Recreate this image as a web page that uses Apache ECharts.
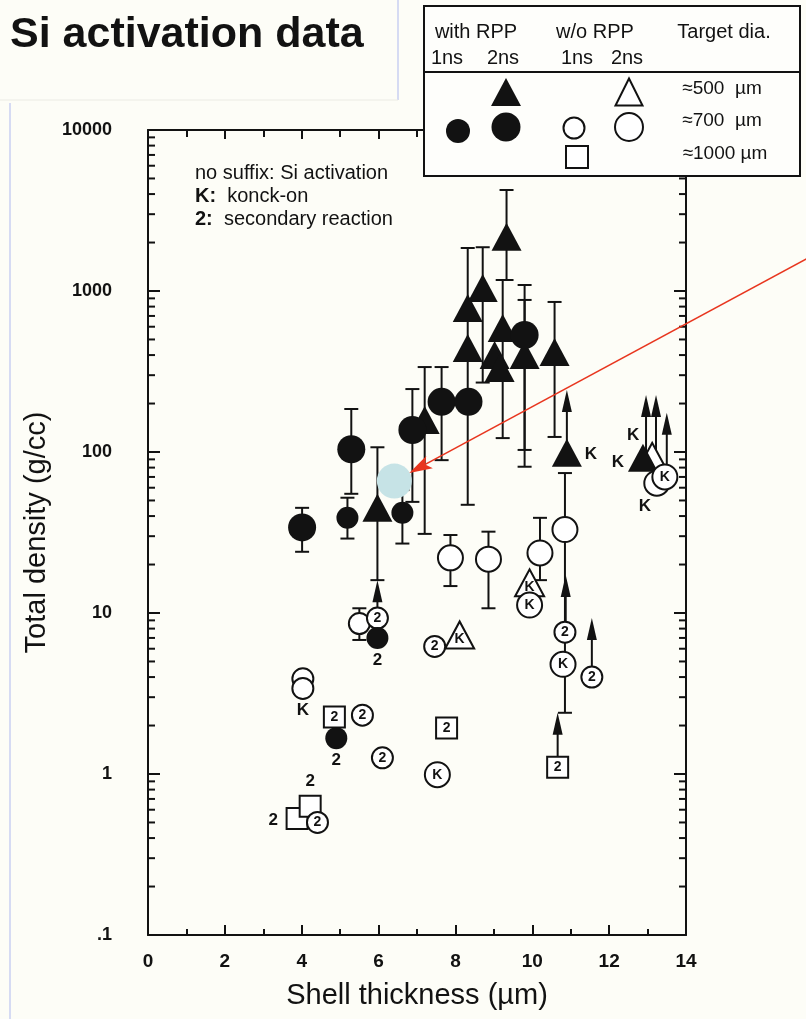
<!DOCTYPE html>
<html>
<head>
<meta charset="utf-8">
<script src="https://cdn.jsdelivr.net/npm/echarts@6/dist/echarts.min.js"></script>
<style>
  html, body { margin: 0; padding: 0; background: #fdfdf7; }
  #chart { width: 806px; height: 1019px; }
</style>
</head>
<body>
<div id="chart"></div>
<script>
// ---- axis ticks ----
const xTicks = [0, 2, 4, 6, 8, 10, 12, 14];
const yDecades = [0.1, 1, 10, 100, 1000, 10000];
const yDecadeLabels = ['.1', '1', '10', '100', '1000', '10000'];

// ---- measurements: [shell thickness (µm), total density (g/cc), suffix] ----
// with RPP, 1 ns, ≈700 µm
const rpp1nsCircle = [
  [5.19, 39, ''], [6.62, 42, ''], [5.97, 7.0, '2'], [4.90, 1.67, '2']
];
// with RPP, 2 ns, ≈700 µm
const rpp2nsCircle = [
  [4.01, 34, ''], [5.29, 104, ''], [6.88, 137, ''], [7.64, 205, ''], [8.34, 205, ''], [9.80, 533, '']
];
// with RPP, 2 ns, ≈500 µm
const rpp2nsTriangle = [
  [5.97, 45, ''], [7.20, 158, ''], [8.32, 783, ''], [8.32, 443, ''], [8.71, 1045, ''],
  [9.23, 589, ''], [9.02, 400, ''], [9.15, 333, ''], [9.33, 2170, ''], [9.80, 400, ''],
  [10.58, 418, ''], [10.90, 99, 'K'], [12.88, 92, 'K']
];
// w/o RPP, 1 ns, ≈700 µm
const noRpp1nsCircle = [
  [4.03, 3.9, ''], [4.03, 3.4, 'K'], [5.50, 8.6, ''], [5.97, 9.3, '2'], [5.58, 2.32, '2'],
  [6.10, 1.26, '2'], [7.46, 6.2, '2'], [4.41, 0.50, '2'], [10.85, 7.6, '2'], [11.55, 4.0, '2']
];
// w/o RPP, 2 ns, ≈700 µm
const noRpp2nsCircle = [
  [7.87, 22, ''], [8.86, 21.6, ''], [10.20, 23.6, ''], [10.85, 33, ''],
  [7.53, 0.99, 'K'], [9.93, 11.2, 'K'], [10.80, 4.8, 'K'], [13.24, 64, 'K'], [13.45, 70, 'K']
];
// w/o RPP, 1 ns, ≈1000 µm
const noRpp1nsSquare = [
  [4.85, 2.26, '2'], [7.77, 1.93, '2'], [10.66, 1.10, '2'], [3.88, 0.53, '2'], [4.22, 0.63, '2']
];
// w/o RPP, 2 ns, ≈500 µm
const noRpp2nsTriangle = [
  [8.11, 7.3, 'K'], [9.93, 15.4, 'K'], [13.12, 94, 'K']
];

// error bars: [thickness, low, high]
const errorBars = [
  [4.01, 24, 45], [5.19, 29, 52], [5.29, 55, 185], [6.62, 27, 58], [6.88, 49, 246],
  [7.64, 89, 337], [9.80, 103, 1090], [5.97, 16, 107], [7.20, 31, 337], [8.32, 47, 1850],
  [8.71, 270, 1870], [9.23, 122, 1170], [9.33, 1170, 4240], [9.80, 81, 880], [10.58, 124, 855],
  [7.87, 14.7, 30.5], [8.86, 10.7, 32], [10.20, 16, 39], [10.85, 2.4, 74], [5.50, 6.8, 10.7]
];
// lower limits (arrows): [thickness, from, to]
const lowerLimits = [
  [5.97, 9.3, 16], [10.90, 99, 243], [12.96, 92, 226], [13.22, 94, 226], [13.50, 70, 175],
  [10.87, 7.6, 17.2], [11.55, 4.0, 9.3], [10.66, 1.10, 2.4]
];
// highlighted point
const highlight = [[6.41, 66]];

// ---- styling ----
const INK = '#121212';
const FONT = '"Liberation Sans", Arial, Helvetica, sans-serif';

// suffix letters drawn beside (rather than inside) their marker
const suffixOffset = {
  'rpp1nsCircle:2': [0, 22], 'rpp1nsCircle:3': [0, 22],
  'rpp2nsTriangle:11': [24, 2], 'rpp2nsTriangle:12': [-25, 4],
  'noRpp1nsCircle:1': [0, 22], 'noRpp2nsCircle:7': [-12, 23],
  'noRpp1nsSquare:3': [-24, 2], 'noRpp1nsSquare:4': [0, -25],
  'noRpp2nsTriangle:2': [-19, -21]
};

function points(key, rows, innerOffset) {
  return rows.map((r, i) => {
    const off = suffixOffset[key + ':' + i];
    return {
      value: [r[0], r[1]],
      name: r[2],
      label: off
        ? { show: r[2] !== '', offset: off, fontSize: 17 }
        : { show: r[2] !== '', offset: innerOffset || [0, 0] }
    };
  });
}

function scatter(key, rows, symbol, size, filled, innerOffset) {
  return {
    type: 'scatter', name: key, symbol: symbol, symbolSize: size,
    itemStyle: filled
      ? { color: INK, opacity: 1 }
      : { color: '#ffffff', borderColor: INK, borderWidth: 2, opacity: 1 },
    label: {
      position: 'inside', formatter: '{b}', color: INK,
      fontSize: 14, fontWeight: 'bold', fontFamily: FONT
    },
    emphasis: { disabled: true },
    data: points(key, rows, innerOffset),
    z: 3
  };
}

function renderErrorBar(params, api) {
  const x = api.value(0);
  const lo = api.coord([x, api.value(1)]);
  const hi = api.coord([x, api.value(2)]);
  const w = 7;
  const style = { stroke: INK, lineWidth: 2 };
  return {
    type: 'group', children: [
      { type: 'line', shape: { x1: lo[0], y1: lo[1], x2: hi[0], y2: hi[1] }, style },
      { type: 'line', shape: { x1: lo[0] - w, y1: lo[1], x2: lo[0] + w, y2: lo[1] }, style },
      { type: 'line', shape: { x1: hi[0] - w, y1: hi[1], x2: hi[0] + w, y2: hi[1] }, style }
    ]
  };
}

function renderLimit(params, api) {
  const x = api.value(0);
  const a = api.coord([x, api.value(1)]);
  const b = api.coord([x, api.value(2)]);
  const headH = 22, headW = 5;
  return {
    type: 'group', children: [
      { type: 'line', shape: { x1: a[0], y1: a[1], x2: b[0], y2: b[1] + headH - 2 },
        style: { stroke: INK, lineWidth: 2 } },
      { type: 'polygon',
        shape: { points: [[b[0], b[1]], [b[0] - headW, b[1] + headH], [b[0] + headW, b[1] + headH]] },
        style: { fill: INK } }
    ]
  };
}

const chart = echarts.init(document.getElementById('chart'), null, { renderer: 'canvas' });

const axisLine = { show: true, onZero: false, lineStyle: { color: INK, width: 2 } };

chart.setOption({
  animation: false,
  backgroundColor: '#fdfdf7',
  title: {
    text: 'Si activation data', left: 5, top: 9,
    textStyle: { fontFamily: FONT, fontSize: 43, fontWeight: 'bold', color: INK }
  },
  grid: { left: 148, right: 120, top: 130, bottom: 84, outerBoundsMode: 'none' },
  xAxis: [
    {
      type: 'value', min: xTicks[0], max: xTicks[xTicks.length - 1], interval: 2,
      position: 'bottom', axisLine: axisLine,
      axisTick: { show: true, inside: true, length: 10, lineStyle: { color: INK, width: 2 } },
      minorTick: { show: true, splitNumber: 2, length: 6, lineStyle: { color: INK, width: 2 } },
      splitLine: { show: false },
      axisLabel: { color: INK, fontFamily: FONT, fontSize: 19, fontWeight: 'bold', margin: 17 },
      name: 'Shell thickness (µm)', nameLocation: 'middle', nameGap: 46,
      nameTextStyle: { color: INK, fontFamily: FONT, fontSize: 29 }
    },
    {
      type: 'value', min: xTicks[0], max: xTicks[xTicks.length - 1], interval: 2,
      position: 'top', axisLine: axisLine,
      axisTick: { show: true, inside: true, length: 9, lineStyle: { color: INK, width: 2 } },
      minorTick: { show: true, splitNumber: 2, length: 7, lineStyle: { color: INK, width: 2 } },
      splitLine: { show: false }, axisLabel: { show: false }
    }
  ],
  yAxis: [
    {
      type: 'log', logBase: 10, min: yDecades[0], max: yDecades[yDecades.length - 1],
      position: 'left', axisLine: axisLine,
      axisTick: { show: true, inside: true, length: 12, lineStyle: { color: INK, width: 2 } },
      splitLine: { show: false },
      axisLabel: {
        color: INK, fontFamily: FONT, fontSize: 18, fontWeight: 'bold', margin: 36,
        formatter: v => {
          const i = yDecades.findIndex(d => Math.abs(Math.log10(d) - Math.log10(v)) < 1e-6);
          return i >= 0 ? yDecadeLabels[i] : '';
        }
      },
      name: 'Total density (g/cc)', nameLocation: 'middle', nameGap: 93,
      nameTextStyle: { color: INK, fontFamily: FONT, fontSize: 29 }
    },
    {
      type: 'log', logBase: 10, min: yDecades[0], max: yDecades[yDecades.length - 1],
      position: 'right', axisLine: axisLine,
      axisTick: { show: true, inside: true, length: 12, lineStyle: { color: INK, width: 2 } },
      splitLine: { show: false }, axisLabel: { show: false }
    }
  ],
  series: [
    {
      type: 'custom', name: 'error bars', renderItem: renderErrorBar, clip: false,
      encode: { x: 0, y: [1, 2] }, data: errorBars, z: 2, silent: true
    },
    {
      type: 'custom', name: 'lower limits', renderItem: renderLimit, clip: false,
      encode: { x: 0, y: [1, 2] }, data: lowerLimits, z: 2, silent: true
    },
    scatter('noRpp2nsTriangle', noRpp2nsTriangle, 'triangle', [29, 27], false, [0, 4]),
    scatter('rpp2nsTriangle', rpp2nsTriangle, 'triangle', [30, 28], true),
    scatter('noRpp1nsSquare', noRpp1nsSquare, 'rect', 21, false),
    scatter('noRpp2nsCircle', noRpp2nsCircle, 'circle', 25, false),
    scatter('noRpp1nsCircle', noRpp1nsCircle, 'circle', 21, false),
    scatter('rpp2nsCircle', rpp2nsCircle, 'circle', 28, true),
    scatter('rpp1nsCircle', rpp1nsCircle, 'circle', 22, true),
    {
      type: 'scatter', name: 'highlight', symbol: 'circle', symbolSize: 35,
      itemStyle: { color: '#c6e3e6', opacity: 1 }, emphasis: { disabled: true },
      data: highlight, z: 5, silent: true
    }
  ]
});

// ---- overlay: log minor ticks, key box, notes, pointer arrow ----
const g = [];
const grid = chart.getModel().getComponent('grid').coordinateSystem.getRect();
const xL = grid.x, xR = grid.x + grid.width;

for (let k = 0; k < yDecades.length - 1; k++) {
  for (let m = 2; m <= 9; m++) {
    const v = yDecades[k] * m;
    const py = chart.convertToPixel({ yAxisIndex: 0 }, v);
    g.push({ type: 'line', shape: { x1: xL, y1: py, x2: xL + 7, y2: py },
      style: { stroke: INK, lineWidth: 2 }, z: 10 });
    g.push({ type: 'line', shape: { x1: xR - 7, y1: py, x2: xR, y2: py },
      style: { stroke: INK, lineWidth: 2 }, z: 10 });
  }
}

// slide edges
g.push({ type: 'line', shape: { x1: 398, y1: 0, x2: 398, y2: 100 }, style: { stroke: '#c9cff2', lineWidth: 1.5 }, z: 1 });
g.push({ type: 'line', shape: { x1: 0, y1: 100, x2: 398, y2: 100 }, style: { stroke: '#ebebe4', lineWidth: 1 }, z: 1 });
g.push({ type: 'line', shape: { x1: 10, y1: 103, x2: 10, y2: 1019 }, style: { stroke: '#c9cff2', lineWidth: 1.5 }, z: 1 });

// notes
const richBold = { b: { fontWeight: 'bold', fontSize: 20, fontFamily: FONT, fill: INK } };
const note = (t, y) => ({ type: 'text', x: 195, y: y,
  style: { text: t, fill: INK, font: '20px ' + FONT, verticalAlign: 'middle', rich: richBold }, z: 10 });
g.push(note('no suffix: Si activation', 173));
g.push(note('{b|K:}  konck-on', 196));
g.push(note('{b|2:}  secondary reaction', 219));

// key box
const keyZ = 20;
g.push({ type: 'rect', shape: { x: 424, y: 6, width: 376, height: 170 },
  style: { fill: '#fefefb', stroke: INK, lineWidth: 2 }, z: keyZ });
g.push({ type: 'line', shape: { x1: 424, y1: 72, x2: 800, y2: 72 }, style: { stroke: INK, lineWidth: 2 }, z: keyZ });
const keyText = (t, x, y, fs) => ({ type: 'text', x: x, y: y,
  style: { text: t, fill: INK, font: (fs || 20) + 'px ' + FONT, align: 'center', verticalAlign: 'middle' }, z: keyZ + 1 });
g.push(keyText('with RPP', 476, 32), keyText('1ns', 447, 58), keyText('2ns', 503, 58));
g.push(keyText('w/o RPP', 595, 32), keyText('1ns', 577, 58), keyText('2ns', 627, 58));
g.push(keyText('Target dia.', 724, 32));
g.push(keyText('≈500  µm', 722, 89, 19), keyText('≈700  µm', 722, 121, 19), keyText('≈1000 µm', 725, 154, 19));
const tri = (cx, cy, w, h) => [[cx, cy - h / 2], [cx + w / 2, cy + h / 2], [cx - w / 2, cy + h / 2]];
g.push({ type: 'polygon', shape: { points: tri(506, 92, 30, 28) }, style: { fill: INK }, z: keyZ + 1 });
g.push({ type: 'polygon', shape: { points: tri(629, 92, 27, 27) }, style: { fill: '#fff', stroke: INK, lineWidth: 2 }, z: keyZ + 1 });
g.push({ type: 'circle', shape: { cx: 458, cy: 131, r: 12 }, style: { fill: INK }, z: keyZ + 1 });
g.push({ type: 'circle', shape: { cx: 506, cy: 127, r: 14.5 }, style: { fill: INK }, z: keyZ + 1 });
g.push({ type: 'circle', shape: { cx: 574, cy: 128, r: 10.5 }, style: { fill: '#fff', stroke: INK, lineWidth: 2 }, z: keyZ + 1 });
g.push({ type: 'circle', shape: { cx: 629, cy: 127, r: 14 }, style: { fill: '#fff', stroke: INK, lineWidth: 2 }, z: keyZ + 1 });
g.push({ type: 'rect', shape: { x: 566, y: 146, width: 22, height: 22 }, style: { fill: '#fff', stroke: INK, lineWidth: 2 }, z: keyZ + 1 });

// pointer arrow to the highlighted point
const c = chart.convertToPixel({ xAxisIndex: 0, yAxisIndex: 0 }, highlight[0]);
const tail = [chart.getWidth() + 4, 257];
const dx = tail[0] - c[0], dy = tail[1] - c[1];
const len = Math.hypot(dx, dy), ux = dx / len, uy = dy / len;
const tip = [c[0] + ux * 17, c[1] + uy * 17];
const headL = 20, headW = 7;
const base = [tip[0] + ux * headL, tip[1] + uy * headL];
g.push({ type: 'line', shape: { x1: base[0] - ux * 4, y1: base[1] - uy * 4, x2: tail[0], y2: tail[1] },
  style: { stroke: '#e8361f', lineWidth: 1.6 }, z: 30 });
g.push({ type: 'polygon', shape: { points: [
  tip,
  [base[0] + uy * headW + ux * 3, base[1] - ux * headW + uy * 3],
  [base[0] - ux * 2, base[1] - uy * 2],
  [base[0] - uy * headW + ux * 3, base[1] + ux * headW + uy * 3]
] }, style: { fill: '#e8361f' }, z: 30 });

chart.setOption({ graphic: g });
</script>
</body>
</html>
